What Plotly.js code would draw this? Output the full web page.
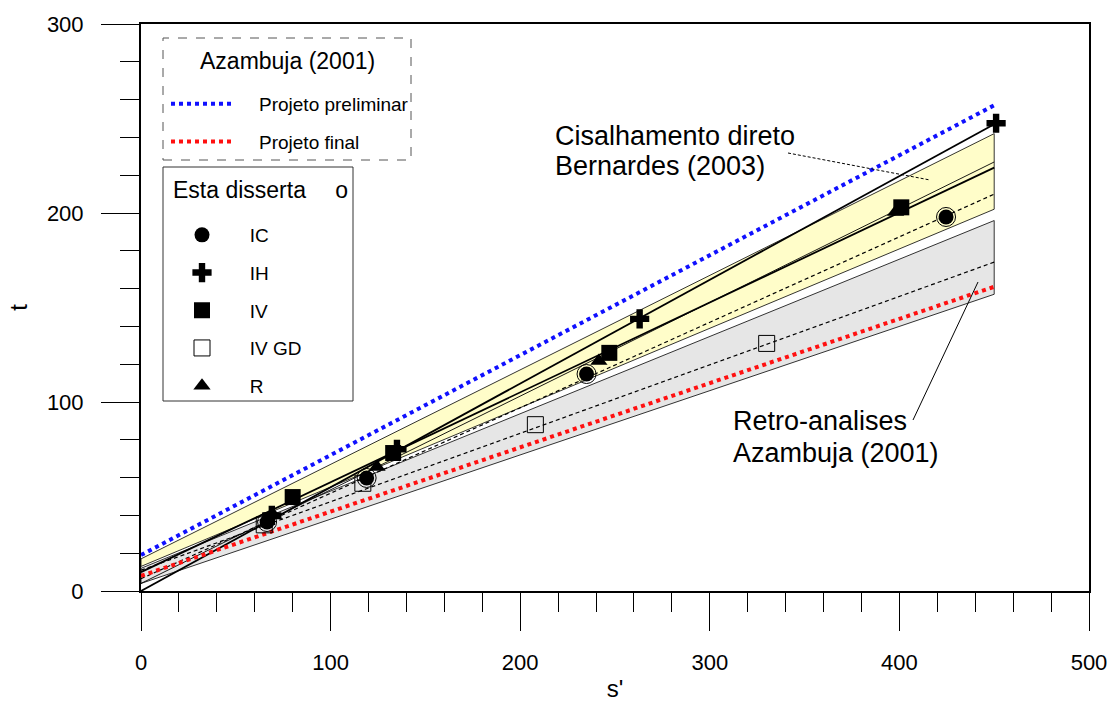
<!DOCTYPE html>
<html>
<head>
<meta charset="utf-8">
<script src="https://cdn.plot.ly/plotly-3.0.1.min.js"></script>
<style>html,body{margin:0;padding:0;background:#fff}#chart{width:1110px;height:702px}</style>
</head>
<body>
<div id="chart"></div>
<script>
// ---- data ----
// envelope / fit lines: [s at start, s at end] and [t at start, t at end]
var lineS = [0, 450];
var preliminarT = [19, 257];      // Projeto preliminar (blue dotted)
var finalT = [8, 161];            // Projeto final (red dotted)
var yellowUpperT = [17, 242];     // Cisalhamento direto band, top
var yellowLowerT = [13, 202];     // Cisalhamento direto band, bottom
var grayUpperT = [12, 196];       // Retro-analises band, top
var grayLowerT = [4, 157];        // Retro-analises band, bottom
var fitIH_T = [0, 247];
var fitIV_T = [10, 224];
var fitR_T = [4, 227];
var fitIC_T = [6.5, 210];
var fitIVGD_T = [11, 174];

// test points
var icS = [66.5, 119, 235, 424.6];
var icT = [36.5, 59.8, 114.8, 197.9];
var ihS = [69, 135, 263, 451];
var ihT = [40, 75, 144, 247.5];
var ivS = [80, 133, 247, 401];
var ivT = [49.7, 73, 126, 203];
var ivgdS = [65, 117, 208, 330];
var ivgdT = [35, 57, 88, 131];
var rS = [70, 124.5, 241.5, 398];
var rT = [40, 65.6, 121.7, 200.5];

var seriesNames = ['IC', 'IH', 'IV', 'IV GD', 'R'];
var refNames = ['Projeto preliminar', 'Projeto final'];
var legendTitles = ['Azambuja (2001)', 'Esta disserta\u2002\u2002\u00a0o'];
var noteTexts = ['Cisalhamento direto', 'Bernardes (2003)', 'Retro-analises', 'Azambuja (2001)'];

function band(upper, lower) {
  return {
    x: [lineS[0], lineS[1], lineS[1], lineS[0], lineS[0]],
    y: [lower[0], lower[1], upper[1], upper[0], lower[0]]
  };
}
var gB = band(grayUpperT, grayLowerT);
var yB = band(yellowUpperT, yellowLowerT);
var SP1 = '\u2002\u2002';
var SP2 = '\u2002\u2002\u2009';

var traces = [
  {x: gB.x, y: gB.y, type: 'scatter', mode: 'lines', fill: 'toself', fillcolor: '#E6E6E6',
   line: {color: '#000', width: 0.8}, showlegend: false, hoverinfo: 'skip'},
  {x: yB.x, y: yB.y, type: 'scatter', mode: 'lines', fill: 'toself', fillcolor: '#FFFDC9',
   line: {color: '#000', width: 0.8}, showlegend: false, hoverinfo: 'skip'},
  {x: lineS, y: fitIVGD_T, mode: 'lines', line: {color: '#000', width: 1.2, dash: '4px,3px'}, showlegend: false},
  {x: lineS, y: fitIC_T, mode: 'lines', line: {color: '#000', width: 1.2, dash: '4px,3px'}, showlegend: false},
  {x: lineS, y: fitR_T, mode: 'lines', line: {color: '#000', width: 0.9}, showlegend: false},
  {x: lineS, y: fitIV_T, mode: 'lines', line: {color: '#000', width: 1.8}, showlegend: false},
  {x: lineS, y: fitIH_T, mode: 'lines', line: {color: '#000', width: 1.8}, showlegend: false},
  {x: lineS, y: preliminarT, mode: 'lines', name: SP1 + refNames[0], legend: 'legend', legendgroup: 'a',
   line: {color: '#1010FF', width: 4, dash: 'dot'}},
  {x: lineS, y: finalT, mode: 'lines', name: SP1 + refNames[1], legend: 'legend', legendgroup: 'b',
   line: {color: '#FF1010', width: 4, dash: 'dot'}},
  // IC ring
  {x: icS, y: icT, mode: 'markers', showlegend: false,
   marker: {symbol: 'circle-open', size: 19, color: '#000', line: {width: 1, color: '#000'}}},
  {x: icS, y: icT, mode: 'markers', name: SP2 + seriesNames[0], legend: 'legend2', legendgroup: 'c1',
   marker: {symbol: 'circle', size: 15, color: '#000', line: {width: 0, color: '#fff'}}},
  {x: ihS, y: ihT, mode: 'markers', name: SP2 + seriesNames[1], legend: 'legend2', legendgroup: 'c2',
   marker: {symbol: 'cross', size: 16, color: '#000', line: {width: 0}}},
  {x: ivS, y: ivT, mode: 'markers', name: SP2 + seriesNames[2], legend: 'legend2', legendgroup: 'c3',
   marker: {symbol: 'square', size: 16, color: '#000', line: {width: 0}}},
  {x: ivgdS, y: ivgdT, mode: 'markers', name: SP2 + seriesNames[3], legend: 'legend2', legendgroup: 'c4',
   marker: {symbol: 'square-open', size: 16, color: '#000', line: {width: 1, color: '#000'}}},
  {x: rS, y: rT, mode: 'markers', name: SP2 + seriesNames[4], legend: 'legend2', legendgroup: 'c5',
   marker: {symbol: 'triangle-up', size: 15, color: '#000', line: {width: 0}}}
];

var FONT = 'Liberation Sans, Arial, sans-serif';
var L = 141, R = 1089, T = 24, B = 591;
function px(x) { return (x - L) / (R - L); }
function py(y) { return (B - y) / (B - T); }

var layout = {
  width: 1110, height: 702,
  margin: {l: L, r: 1110 - R, t: T, b: 702 - B, pad: 0},
  paper_bgcolor: '#fff', plot_bgcolor: '#fff',
  font: {family: FONT, color: '#000'},
  xaxis: {
    range: [0, 500], dtick: 100, tick0: 0, ticks: 'outside', ticklen: 38, tickwidth: 1, tickcolor: '#000',
    showgrid: false, zeroline: false, showline: true, linecolor: '#000', linewidth: 2, mirror: true,
    tickfont: {size: 22, family: FONT}, ticklabelstandoff: 13,
    minor: {dtick: 20, ticks: 'outside', ticklen: 19, tickwidth: 1, tickcolor: '#000', showgrid: false},
    title: {text: "s'", font: {size: 24, family: FONT}, standoff: 6}
  },
  yaxis: {
    range: [0, 300], dtick: 100, tick0: 0, ticks: 'outside', ticklen: 38, tickwidth: 1, tickcolor: '#000',
    showgrid: false, zeroline: false, showline: true, linecolor: '#000', linewidth: 2, mirror: true,
    tickfont: {size: 22, family: FONT}, ticklabelstandoff: 13,
    minor: {dtick: 20, ticks: 'outside', ticklen: 19, tickwidth: 1, tickcolor: '#000', showgrid: false},
    title: {text: 't', font: {size: 24, family: FONT}, standoff: 12}
  },
  legend: {
    x: px(166), y: py(85), xanchor: 'left', yanchor: 'top',
    bgcolor: 'rgba(0,0,0,0)', borderwidth: 0,
    font: {size: 19, family: FONT}, traceorder: 'grouped', tracegroupgap: 10, itemwidth: 64
  },
  legend2: {
    x: px(177), y: py(216), xanchor: 'left', yanchor: 'top',
    bgcolor: 'rgba(0,0,0,0)', borderwidth: 0,
    font: {size: 19, family: FONT}, traceorder: 'grouped', tracegroupgap: 10, itemwidth: 40
  },
  shapes: [
    {type: 'rect', xref: 'paper', yref: 'paper', x0: px(163), x1: px(411), y0: py(160), y1: py(38),
     line: {color: '#555', width: 1, dash: 'dash'}, fillcolor: 'rgba(0,0,0,0)', layer: 'above'},
    {type: 'rect', xref: 'paper', yref: 'paper', x0: px(163), x1: px(353), y0: py(401), y1: py(167),
     line: {color: '#333', width: 1}, fillcolor: 'rgba(0,0,0,0)', layer: 'above'},
    {type: 'line', xref: 'paper', yref: 'paper', x0: px(788), y0: py(153), x1: px(930), y1: py(180),
     line: {color: '#000', width: 1, dash: '3px,2px'}, layer: 'above'},
    {type: 'line', xref: 'paper', yref: 'paper', x0: px(913), y0: py(420), x1: px(978), y1: py(282),
     line: {color: '#000', width: 1}, layer: 'above'}
  ],
  annotations: [
    {xref: 'paper', yref: 'paper', x: px(287), y: py(61), xanchor: 'center', yanchor: 'middle',
     text: legendTitles[0], showarrow: false, font: {size: 23, family: FONT}},
    {xref: 'paper', yref: 'paper', x: px(171), y: py(190), xanchor: 'left', yanchor: 'middle',
     text: legendTitles[1], showarrow: false, font: {size: 23, family: FONT}},
    {xref: 'paper', yref: 'paper', x: px(553), y: py(136), xanchor: 'left', yanchor: 'middle',
     text: noteTexts[0], showarrow: false, font: {size: 27, family: FONT}},
    {xref: 'paper', yref: 'paper', x: px(553), y: py(166), xanchor: 'left', yanchor: 'middle',
     text: noteTexts[1], showarrow: false, font: {size: 27, family: FONT}},
    {xref: 'paper', yref: 'paper', x: px(731), y: py(421), xanchor: 'left', yanchor: 'middle',
     text: noteTexts[2], showarrow: false, font: {size: 27, family: FONT}},
    {xref: 'paper', yref: 'paper', x: px(731), y: py(453), xanchor: 'left', yanchor: 'middle',
     text: noteTexts[3], showarrow: false, font: {size: 27, family: FONT}}
  ],
  showlegend: true
};

Plotly.newPlot('chart', traces, layout, {displayModeBar: false, staticPlot: true});
</script>
</body>
</html>
